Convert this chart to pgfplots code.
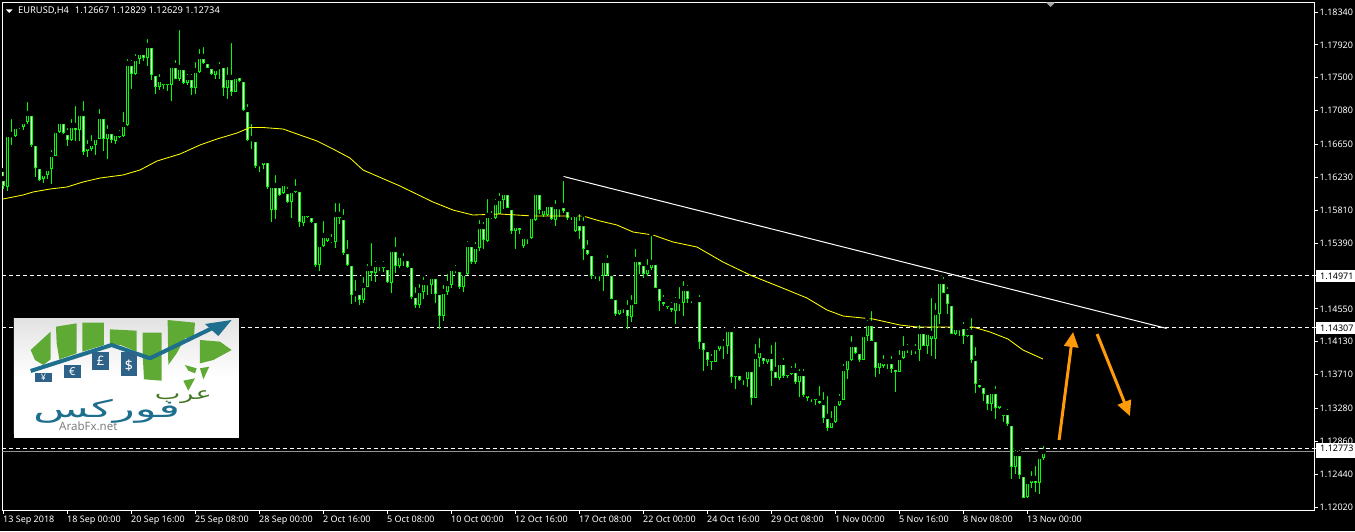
\documentclass[border=0pt]{standalone}
\usepackage{pgfplots}
\usepackage{pgfplotstable}
\usepackage{fontspec}
\pgfplotsset{compat=1.18}
\usetikzlibrary{arrows.meta}
\setmainfont{Noto Sans}
\newfontfamily\arabicfont[Script=Arabic]{DejaVu Sans}
\TeXXeTstate=1
\definecolor{candle}{HTML}{00FF00}
\definecolor{ma}{HTML}{FFFF00}
\definecolor{arr}{HTML}{FF9A0A}
\definecolor{leaf}{HTML}{5FAA34}
\definecolor{teal1}{HTML}{1E6E8E}
\definecolor{tile}{HTML}{2F6289}
% i = bar number; h,l,t,b = high, low, body top, body bottom as chart rows; k=1 down bar
\pgfplotstableread{
i h l t b k
0 170 188 178 185 1
1 133 190 134 186 0
2 117 144 134 136 1
3 122 136 126 135 0
4 122 128 125 127 0
5 120 129 121 126 0
6 100 123 113 121 0
7 111 146 113 144 1
8 143 176 143 167 1
9 166 180 166 179 1
10 170 182 173 178 0
11 167 178 168 174 0
12 148 183 154 168 0
13 129 155 130 155 0
14 119 132 121 131 0
15 119 133 121 132 1
16 126 145 132 139 1
17 117 140 125 139 0
18 104 140 125 129 1
19 110 140 113 129 0
20 99 154 113 151 1
21 138 156 146 150 0
22 133 150 143 148 0
23 135 154 137 144 0
24 107 138 116 138 0
25 115 150 116 138 1
26 123 158 131 138 0
27 131 142 131 139 1
28 132 143 133 140 0
29 128 137 133 136 1
30 110 136 124 135 0
31 57 125 63 124 0
32 58 88 63 73 1
33 52 74 58 73 0
34 52 63 52 58 0
35 50 60 52 57 1
36 37 65 45 57 0
37 43 79 45 74 1
38 70 93 73 86 1
39 72 89 79 86 0
40 80 88 81 84 1
41 80 90 81 84 0
42 63 100 65 84 0
43 58 78 65 78 1
44 28 80 67 78 0
45 63 83 67 82 1
46 72 84 77 82 0
47 72 94 77 87 1
48 60 93 70 87 0
49 47 72 56 71 0
50 45 63 56 62 1
51 57 67 61 67 1
52 63 74 66 73 1
53 65 78 68 74 0
54 60 78 66 68 0
55 65 95 65 87 1
56 65 98 77 87 0
57 41 95 77 91 1
58 73 91 76 91 0
59 74 81 75 80 1
60 78 110 79 109 1
61 102 140 109 139 1
62 122 148 138 140 1
63 139 167 139 165 1
64 163 171 163 165 0
65 157 168 160 164 0
66 156 188 160 186 1
67 183 221 185 209 0
68 173 218 185 209 1
69 183 195 185 194 1
70 182 193 183 192 0
71 185 202 191 201 1
72 190 217 190 201 0
73 177 192 188 191 0
74 188 226 189 221 1
75 211 225 213 222 0
76 211 217 213 216 0
77 213 222 215 221 1
78 220 266 220 264 1
79 244 270 244 264 0
80 219 246 235 245 0
81 232 241 235 240 0
82 232 242 239 241 0
83 201 247 214 241 0
84 201 223 214 217 1
85 207 254 217 252 1
86 238 265 251 264 1
87 262 303 263 294 1
88 278 301 293 294 0
89 292 304 292 299 1
90 275 302 285 299 0
91 262 286 268 286 0
92 241 280 268 272 1
93 259 281 264 272 0
94 260 270 264 266 0
95 259 271 264 267 0
96 263 282 267 281 1
97 246 292 249 282 0
98 235 272 249 265 1
99 254 267 255 265 0
100 251 265 258 259 0
101 257 267 258 266 1
102 265 298 265 296 1
103 285 307 295 304 1
104 282 307 290 304 0
105 275 298 282 291 0
106 278 294 282 284 0
107 272 293 276 284 0
108 275 302 276 293 1
109 291 328 292 315 1
110 283 320 291 315 0
111 272 294 283 291 0
112 267 287 268 284 0
113 263 272 268 270 0
114 268 288 269 286 1
115 272 291 273 286 0
116 239 274 244 273 0
117 241 263 244 261 1
118 240 263 246 261 0
119 218 250 226 247 0
120 220 248 226 239 1
121 197 241 215 240 0
122 209 218 215 217 0
123 197 218 202 217 0
124 191 213 198 213 0
125 188 208 192 199 0
126 188 207 192 207 1
127 207 233 207 230 1
128 222 248 225 230 0
129 222 233 225 229 1
130 232 247 236 245 0
131 232 243 236 237 0
132 215 238 216 237 0
133 190 220 192 219 0
134 191 213 192 209 1
135 205 216 208 214 0
136 202 215 204 214 0
137 202 219 204 218 1
138 198 225 206 219 0
139 203 216 206 207 0
140 179 212 205 210 1
141 208 219 209 217 1
142 212 219 214 216 0
143 212 231 214 230 0
144 212 238 223 230 1
145 215 259 223 248 1
146 238 254 247 253 1
147 253 278 253 275 1
148 270 278 273 275 0
149 272 280 273 275 0
150 257 290 260 275 0
151 253 275 260 274 1
152 273 298 273 298 1
153 297 315 297 313 1
154 306 314 307 313 0
155 304 312 306 307 0
156 298 328 307 315 1
157 293 321 302 316 0
158 247 303 259 303 0
159 257 273 259 264 1
160 259 277 263 273 1
161 257 275 267 273 0
162 234 269 262 267 0
163 262 287 262 287 1
164 284 310 286 300 1
165 293 305 299 303 1
166 301 308 303 306 0
167 300 311 305 309 1
168 295 323 300 310 0
169 285 310 301 302 0
170 279 315 288 302 0
171 283 302 288 298 1
172 295 302 298 300 0
173 298 301 299 300 0
174 293 348 299 341 1
175 338 370 340 349 1
176 345 365 349 359 1
177 352 369 358 361 1
178 346 361 347 361 0
179 342 350 343 348 0
180 337 358 343 345 0
181 327 353 329 345 0
182 327 382 329 376 1
183 372 388 373 376 0
184 372 380 373 379 1
185 373 384 377 379 0
186 366 386 369 378 0
187 368 404 369 397 1
188 342 397 356 397 0
189 336 366 350 357 0
190 354 363 355 360 1
191 356 363 356 361 0
192 343 385 356 370 1
193 340 377 369 377 1
194 362 379 362 377 0
195 356 377 362 375 1
196 372 377 372 375 0
197 364 374 370 373 0
198 361 383 370 381 1
199 367 396 373 381 0
200 367 396 373 394 1
201 392 400 393 397 0
202 393 401 396 398 0
203 393 404 396 399 0
204 384 403 398 402 1
205 390 422 402 417 1
206 394 430 416 427 1
207 409 427 420 427 0
208 402 422 403 421 0
209 392 405 398 404 0
210 362 399 368 399 0
211 355 378 358 369 0
212 334 360 344 359 0
213 341 353 344 352 1
214 347 361 351 359 1
215 331 359 334 359 0
216 318 340 323 335 0
217 309 340 323 340 1
218 339 376 339 367 1
219 357 373 360 367 0
220 353 367 361 365 0
221 358 368 361 362 0
222 354 372 361 368 1
223 367 391 367 371 1
224 348 371 357 371 0
225 334 358 348 357 0
226 342 352 347 349 0
227 344 354 347 349 0
228 342 353 348 349 0
229 323 360 331 349 0
230 330 345 331 345 1
231 330 353 332 345 0
232 296 355 333 338 0
233 301 358 312 338 0
234 279 323 281 313 0
235 275 292 281 292 1
236 285 313 291 303 1
237 303 333 303 333 1
238 327 334 327 333 0
239 326 335 327 328 0
240 320 343 326 335 1
241 327 336 332 335 0
242 316 362 332 359 1
243 345 392 358 383 1
244 377 387 382 386 1
245 382 400 385 393 1
246 391 409 392 403 1
247 387 410 391 403 0
248 384 418 391 407 1
249 400 408 403 407 0
250 408 421 412 415 0
251 407 425 412 423 1
252 423 478 423 466 1
253 448 473 453 466 0
254 448 478 453 474 1
255 474 497 474 497 1
256 479 497 481 496 0
257 469 487 478 482 0
258 464 491 478 482 1
259 453 493 456 482 0
260 444 459 451 457 0
}\candles
% moving average, as image column and row
\pgfplotstableread{
x p
3 199
23 195
33 192
50 189
67 187
83 182
100 178
123 175
140 170
157 161
180 154
200 145
217 139
237 133
250 127.5
263 127.5
283 129
300 135
317 141
333 149
350 158
363 170
400 186
433 202
453 210
473 215
500 214
533 216
583 216
600 221
617 225
633 232
653 235
673 242
697 247
723 262
750 275
780 287
807 298
827 310
843 316
873 319
900 325
917 327
940 327
973 327
990 332
1008 339
1023 350
1043 359
}\maline
\newcommand{\rowexpr}[1]{1.1834-(#1-12)/7833}
\pgfplotsset{
  wickbar/.style={only marks,mark=none,forget plot,error bars/.cd,y dir=minus,y explicit,error mark=none,error bar style={line width=1pt,color=candle}},
  bodybar/.style={only marks,mark=none,forget plot,error bars/.cd,y dir=minus,y explicit,error mark=none,error bar style={line width=3pt,color=candle}},
  inbar/.style={only marks,mark=none,forget plot,error bars/.cd,y dir=minus,y explicit,error mark=none,error bar style={line width=1pt,color=#1}},
}
\begin{document}
\begin{tikzpicture}[x=1pt,y=1pt]
\fill[black] (0,0) rectangle (1355,531);
\path[use as bounding box] (0,0) rectangle (1355,531);
\begin{axis}[
  at={(2.5pt,20.5pt)},anchor=south west,scale only axis,width=1312pt,height=508pt,
  xmin=-0.25,xmax=327.75,ymin=1.119759,ymax=1.184613,
  axis line style={white,line width=1pt},
  tick style={white,line width=1pt},
  major tick length=3.5pt,tick align=outside,
  xtick pos=lower,ytick pos=right,
  xtick={0,16,...,256},
  xticklabels={13 Sep 2018,18 Sep 00:00,20 Sep 16:00,25 Sep 08:00,28 Sep 00:00,2 Oct 16:00,5 Oct 08:00,10 Oct 00:00,12 Oct 16:00,17 Oct 08:00,22 Oct 00:00,24 Oct 16:00,29 Oct 08:00,1 Nov 00:00,5 Nov 16:00,8 Nov 08:00,13 Nov 00:00},
  ytick={1.18340,1.17920,1.17500,1.17080,1.16650,1.16230,1.15810,1.15390,1.14971,1.14550,1.14307,1.14130,1.13710,1.13280,1.12860,1.12773,1.12440,1.12020},
  yticklabels={1.18340,1.17920,1.17500,1.17080,1.16650,1.16230,1.15810,1.15390,1.14971,1.14550,1.14307,1.14130,1.13710,1.13280,1.12860,1.12773,1.12440,1.12020},
  x tick label style={anchor=north west,inner sep=0pt,text=white,font=\fontsize{9}{10}\selectfont,xshift=-0.5pt,yshift=-1.5pt},
  y tick label style={anchor=west,inner sep=0pt,text=white,font=\fontsize{9}{10}\selectfont,xshift=1.5pt},
  /pgf/number format/assume math mode=true,
  clip=true,
]
% horizontal levels
\addplot[white,line width=1pt,dash pattern=on 4pt off 3pt,forget plot] coordinates {(-0.25,1.14971) (327.75,1.14971)};
\addplot[white,line width=1pt,dash pattern=on 4pt off 3pt,forget plot] coordinates {(-0.25,1.14307) (327.75,1.14307)};
\addplot[white,line width=1pt,dash pattern=on 4pt off 3pt,forget plot] coordinates {(-0.25,1.12773) (327.75,1.12773)};
\addplot[gray!85,line width=1pt,forget plot] coordinates {(-0.25,1.12734) (327.75,1.12734)};
% candles
\addplot[wickbar] table[x=i,y expr={\rowexpr{\thisrow{h}}},y error minus expr={(\thisrow{l}-\thisrow{h}+1)/7833}] {\candles};
\addplot[bodybar] table[x=i,y expr={\rowexpr{\thisrow{t}}},y error minus expr={(\thisrow{b}-\thisrow{t}+1)/7833}] {\candles};
\addplot[inbar=black] table[x=i,y expr={\rowexpr{(\thisrow{t}+1)}},y error minus expr={(1-\thisrow{k})*(\thisrow{b}-\thisrow{t}-1)/7833}] {\candles};
\addplot[inbar=white] table[x=i,y expr={\rowexpr{(\thisrow{t}+1)}},y error minus expr={\thisrow{k}*(\thisrow{b}-\thisrow{t}-1)/7833}] {\candles};
% moving average
\addplot[ma,line width=0.85pt,forget plot] table[x expr={(\thisrow{x}-3.5)/4},y expr={\rowexpr{\thisrow{p}}}] {\maline};
% trend line
\addplot[white,line width=1pt,forget plot] coordinates {(140,1.16240) (290.8,1.14300)};
% arrows
\addplot[arr,line width=3pt,forget plot,-{Triangle[width=14pt,length=15pt]}] coordinates {(263.9,1.12876) (267.4,1.14255)};
\addplot[arr,line width=3pt,forget plot,-{Triangle[width=14pt,length=15pt]}] coordinates {(273.4,1.14229) (281.6,1.13182)};
\end{axis}
% boxed price labels
\newcommand{\pricebox}[2]{\fill[white] (1316,531-#1-6) rectangle (1355,531-#1+6);\node[anchor=west,inner sep=0pt,text=black,font=\fontsize{9}{10}\selectfont] at (1320,531-#1) {#2};}
\pricebox{276}{1.14971}
\pricebox{328}{1.14307}
\pricebox{451.5}{1.12734}
\pricebox{448.5}{1.12773}
% header
\fill[white] (6,521.5) -- (12.5,521.5) -- (9.25,518) -- cycle;
\node[anchor=west,inner sep=0pt,text=white,font=\fontsize{9.3}{10}\selectfont] at (18,520.5) {EURUSD,H4\hspace{6pt}1.12667 1.12829 1.12629 1.12734};
% chart shift marker
\fill[gray!70] (1046,528.5) -- (1055,528.5) -- (1050.5,524) -- cycle;
% logo
\begin{scope}[shift={(0,221)},x=0.3333pt,y=-0.3333pt]
\fill[white] (42,27) rectangle (717,383);
\shade[top color=gray!22,bottom color=white,middle color=white] (42,27) rectangle (717,372);
\fill[leaf] (92,120) -- (130,85) -- (152,65) -- (152,148) -- (130,165) -- (105,150) -- cycle;
\fill[leaf] (168,50) -- (230,40) -- (230,130) -- (178,148) -- (170,100) -- cycle;
\fill[leaf] (247,38) -- (312,38) -- (312,105) -- (247,125) -- cycle;
\fill[leaf] (330,58) -- (410,62) -- (410,125) -- (362,105) -- (330,102) -- cycle;
\fill[leaf] (428,68) -- (485,68) -- (485,212) -- (432,208) -- (428,130) -- cycle;
\fill[leaf] (503,30) -- (585,38) -- (582,80) -- (555,85) -- (530,130) -- (505,165) -- cycle;
\fill[leaf] (600,90) -- (660,95) -- (695,120) -- (640,150) -- (600,160) -- cycle;
\fill[leaf] (555,165) -- (590,175) -- (585,190) -- (565,182) -- cycle;
\fill[leaf] (600,175) -- (628,170) -- (610,208) -- cycle;
\fill[leaf] (550,212) -- (585,205) -- (565,242) -- cycle;
\draw[teal1,line width=4pt,line join=round] (92,183) -- (335,105) -- (450,145) -- (650,48);
\fill[teal1] (695,30) -- (615,42) -- (655,78) -- cycle;
\fill[tile] (105,190) rectangle (155,215);
\fill[tile] (192,165) rectangle (242,205);
\fill[tile] (277,125) rectangle (327,180);
\fill[tile] (362,125) rectangle (412,197);
\node[text=white,font=\bfseries\fontsize{9}{10}\selectfont] at (130,202) {¥};
\node[text=white,font=\bfseries\fontsize{11}{12}\selectfont] at (217,185) {€};
\node[text=white,font=\bfseries\fontsize{13}{14}\selectfont] at (302,152) {£};
\node[text=white,font=\bfseries\fontsize{14}{15}\selectfont] at (387,168) {\$};
\node[xscale=1.6,text=leaf!70!black,font=\arabicfont\fontsize{17}{18}\selectfont] at (550,262) {\beginR عرب\endR};
\node[xscale=1.9,text=teal1,font=\arabicfont\fontsize{24}{26}\selectfont] at (320,305) {\beginR فوركس\endR};
\node[text=gray,font=\fontsize{11.5}{12}\selectfont] at (265,350) {ArabFx.net};
\end{scope}
\end{tikzpicture}
\end{document}
